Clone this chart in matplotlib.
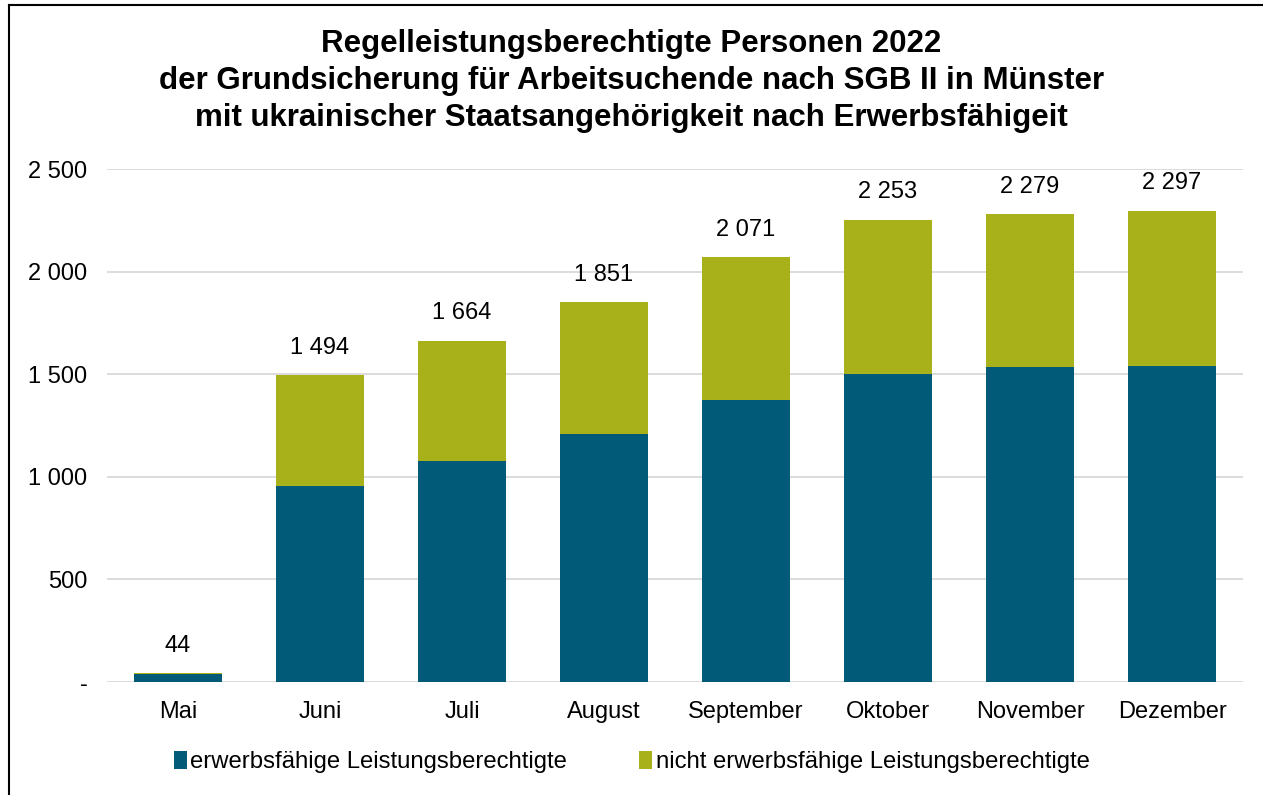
import matplotlib
matplotlib.use("Agg")
import matplotlib.pyplot as plt
from matplotlib.lines import Line2D
from matplotlib.ticker import FuncFormatter
import numpy as np

months = ["Mai", "Juni", "Juli", "August", "September", "Oktober", "November", "Dezember"]
erwerbsfaehig = [37, 955, 1078, 1208, 1376, 1502, 1533, 1541]
totals = [44, 1494, 1664, 1851, 2071, 2253, 2279, 2297]
nicht_erwerbsfaehig = [t - e for t, e in zip(totals, erwerbsfaehig)]

dark = "#005A78"
green = "#A9B11A"

plt.rcParams['font.family'] = ['Liberation Sans', 'DejaVu Sans']

fig = plt.figure(figsize=(12.63, 7.95), dpi=100)
W, H = 1263, 795
ax = fig.add_axes([107 / W, (H - 682) / H, 1136 / W, (682 - 169) / H])

x = np.arange(len(months))
ax.bar(x, erwerbsfaehig, width=0.62, color=dark, label="erwerbsfähige Leistungsberechtigte", zorder=3)
ax.bar(x, nicht_erwerbsfaehig, width=0.62, bottom=erwerbsfaehig, color=green,
       label="nicht erwerbsfähige Leistungsberechtigte", zorder=3)

fs = 17
for xi, t in zip(x, totals):
    ax.text(xi, t + 80, f"{t:,}".replace(",", " "), ha="center", va="bottom", fontsize=fs)

ax.set_xlim(-0.5, len(months) - 0.5)
ax.set_ylim(0, 2500)
ax.set_yticks(np.arange(0, 2501, 500))
ax.yaxis.set_major_formatter(FuncFormatter(lambda v, p: "-" if v == 0 else f"{int(v):,}".replace(",", " ")))
ax.set_xticks(x)
ax.set_xticklabels(months)
ax.tick_params(axis="both", length=0, labelsize=fs)
ax.tick_params(axis="y", pad=14)
ax.tick_params(axis="x", pad=14)
ax.grid(axis="y", color="#D9D9D9", linewidth=1.3, zorder=0)
for s in ax.spines.values():
    s.set_visible(False)

fig.text(0.5, 1 - 81 / H, "Regelleistungsberechtigte Personen 2022\nder Grundsicherung für Arbeitsuchende nach SGB II in Münster\nmit ukrainischer Staatsangehörigkeit nach Erwerbsfähigeit",
         ha="center", va="center", fontsize=22.5, fontweight="bold", linespacing=1.32)

fig.legend(loc="center", bbox_to_anchor=(0.5, 1 - 762 / H), ncol=2, frameon=False, fontsize=17.2,
           handlelength=0.55, handleheight=0.8, handletextpad=0.15, columnspacing=3.0)

# outer frame: top and left edge only
fig.add_artist(Line2D([9 / W, 1], [1 - 5 / H, 1 - 5 / H], color="black", linewidth=1.5))
fig.add_artist(Line2D([9 / W, 9 / W], [0, 1 - 5 / H], color="black", linewidth=1.5))

fig.savefig("out.png", dpi=100)
